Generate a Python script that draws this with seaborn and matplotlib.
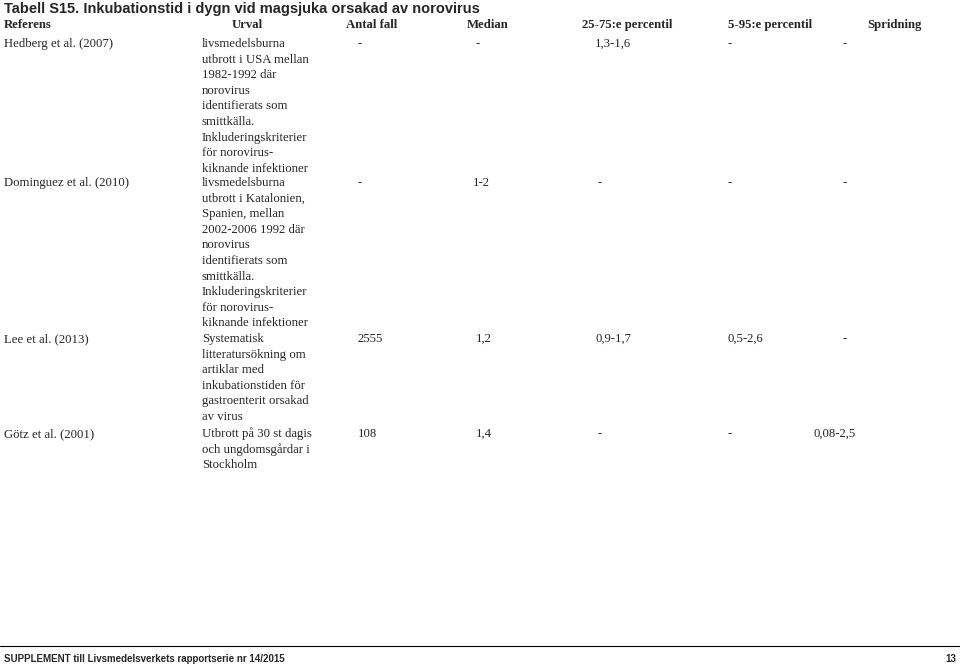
import matplotlib
matplotlib.use("Agg")
import matplotlib.pyplot as plt
import seaborn as sns

sns.set_style("white")

title = "Tabell S15. Inkubationstid i dygn vid magsjuka orsakad av norovirus"
headers = ["Referens", "Urval", "Antal fall", "Median", "25-75:e percentil", "5-95:e percentil", "Spridning"]
referens = ["Hedberg et al. (2007)", "Dominguez et al. (2010)", "Lee et al. (2013)", "Götz et al. (2001)"]
urval = [
    ["livsmedelsburna", "utbrott i USA mellan", "1982-1992 där", "norovirus", "identifierats som",
     "smittkälla.", "Inkluderingskriterier", "för norovirus-", "kiknande infektioner"],
    ["livsmedelsburna", "utbrott i Katalonien,", "Spanien, mellan", "2002-2006 1992 där", "norovirus",
     "identifierats som", "smittkälla.", "Inkluderingskriterier", "för norovirus-", "kiknande infektioner"],
    ["Systematisk", "litteratursökning om", "artiklar med", "inkubationstiden för",
     "gastroenterit orsakad", "av virus"],
    ["Utbrott på 30 st dagis", "och ungdomsgårdar i", "Stockholm"],
]
antal = ["-", "-", "2555", "108"]
median = ["-", "1-2", "1,2", "1,4"]
p25_75 = ["1,3-1,6", "-", "0,9-1,7", "-"]
p5_95 = ["-", "-", "0,5-2,6", "-"]
spridning = ["-", "-", "-", "0,08-2,5"]
footer_left = "SUPPLEMENT till Livsmedelsverkets rapportserie nr 14/2015"
footer_right = "13"

fig = plt.figure(figsize=(9.6, 6.66), dpi=100)
ax = fig.add_axes([0, 0, 1, 1])
ax.set_xlim(0, 960); ax.set_ylim(666, 0); ax.axis("off")

serif = "Liberation Serif"; sans = "Liberation Sans"
fs = 9.2
ax.text(4, 9, title, fontsize=10.5, fontweight="bold", family=sans, va="center")
hx = [4, 247, 372, 488, 627, 770, 895]
for i, (x, h) in enumerate(zip(hx, headers)):
    ax.text(x, 25, h, fontsize=fs, fontweight="bold", family=serif, va="center",
            ha="left" if i == 0 else "center")

row_y = [44, 183, 339, 434]
lh = 15.6
for r, y in enumerate(row_y):
    ax.text(4, y, referens[r], fontsize=fs, family=serif, va="center")
    for k, line in enumerate(urval[r]):
        ax.text(202, y + k * lh, line, fontsize=fs, family=serif, va="center")
    vals = [antal[r], median[r], p25_75[r], p5_95[r], spridning[r]]
    xs = [358, 476, 595 if vals[2] != "-" else 598, 728, 813 if vals[4] != "-" else 843]
    if vals[1] == "1-2":
        xs[1] = 473
    for x, v in zip(xs, vals):
        ax.text(x, y, v, fontsize=fs, family=serif, va="center")

ax.plot([0, 960], [646, 646], color="black", lw=0.8)
ax.text(4, 659, footer_left, fontsize=7, fontweight="bold", family=sans, va="center")
ax.text(956, 659, footer_right, fontsize=7, fontweight="bold", family=sans, va="center", ha="right")

fig.savefig("out.png", dpi=100)
